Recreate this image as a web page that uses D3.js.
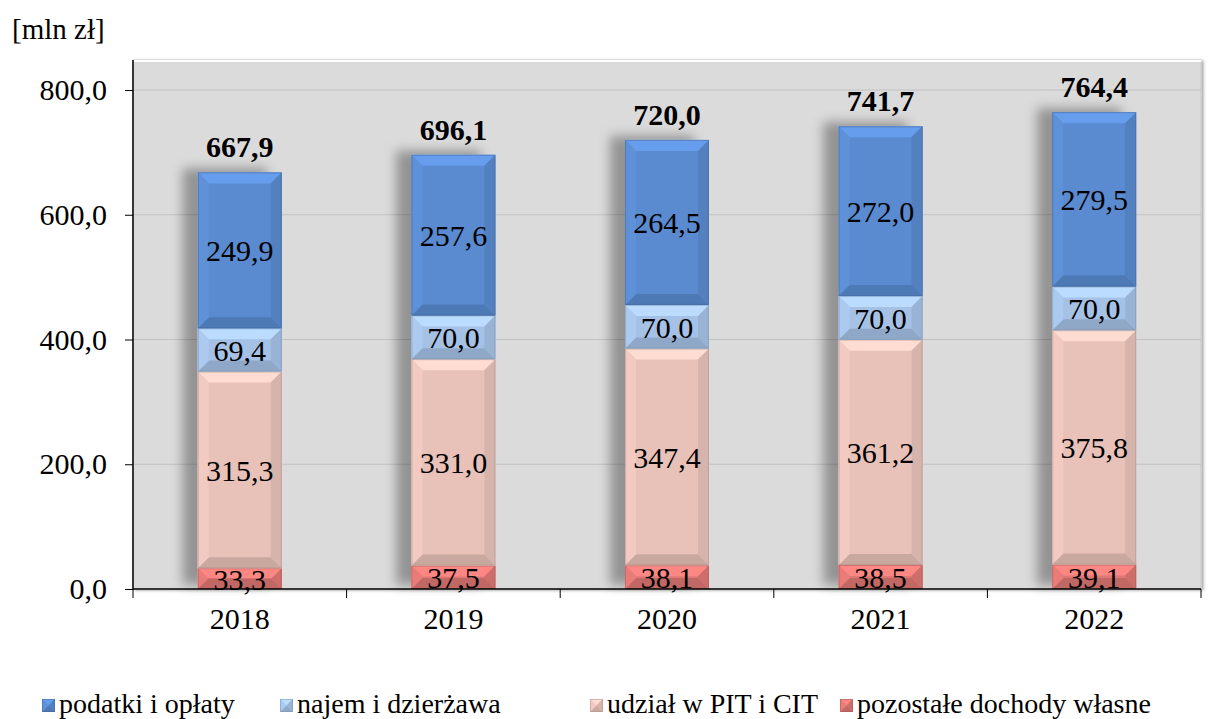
<!DOCTYPE html>
<html>
<head>
<meta charset="utf-8">
<script src="https://cdn.jsdelivr.net/npm/d3@7"></script>
<style>
  body { margin: 0; background: #fff; }
  text { font-family: "Liberation Serif", "Times New Roman", serif; fill: #000; }
</style>
</head>
<body>
<div id="chart"></div>
<script>
//data
var years = ["2018", "2019", "2020", "2021", "2022"];
var podatki = [249.9, 257.6, 264.5, 272.0, 279.5];
var najem = [69.4, 70.0, 70.0, 70.0, 70.0];
var udzial = [315.3, 331.0, 347.4, 361.2, 375.8];
var pozostale = [33.3, 37.5, 38.1, 38.5, 39.1];
var totals = [667.9, 696.1, 720.0, 741.7, 764.4];
var seriesNames = ["podatki i opłaty", "najem i dzierżawa", "udział w PIT i CIT", "pozostałe dochody własne"];
var yTicks = [0, 200, 400, 600, 800];

var colors = {
  "pozostałe dochody własne": "#df7774",
  "udział w PIT i CIT": "#e8c2b9",
  "najem i dzierżawa": "#a5c2e6",
  "podatki i opłaty": "#5a8bd0"
};

var W = 1215, H = 719;
var plot = {left: 133, right: 1201, top: 60, bottom: 589};

var svg = d3.select("#chart").append("svg")
    .attr("width", W).attr("height", H);

var defs = svg.append("defs");
defs.append("filter").attr("id", "shadow")
    .attr("x", "-60%").attr("y", "-20%").attr("width", "220%").attr("height", "140%")
  .append("feDropShadow")
    .attr("dx", -15).attr("dy", -4).attr("stdDeviation", 6)
    .attr("flood-color", "#000").attr("flood-opacity", 0.33);
defs.append("filter").attr("id", "plotShadow")
    .attr("x", "-5%").attr("y", "-5%").attr("width", "110%").attr("height", "110%")
  .append("feDropShadow")
    .attr("dx", 2).attr("dy", 1).attr("stdDeviation", 1.5)
    .attr("flood-color", "#000").attr("flood-opacity", 0.35);

//scales
var x = d3.scaleBand().domain(years)
    .range([plot.left, plot.right])
    .paddingInner(0.607).paddingOuter(0.3035);
var y = d3.scaleLinear().domain([0, 800]).range([plot.bottom, 90]);

var fmt = function(v) { return d3.format(".1f")(v).replace(".", ","); };

//plot area
svg.append("rect")
    .attr("x", plot.left).attr("y", plot.top)
    .attr("width", plot.right - plot.left).attr("height", plot.bottom - plot.top)
    .attr("fill", "#dbdbdb").attr("stroke", "#c8c8c8")
    .attr("filter", "url(#plotShadow)");
svg.append("line")
    .attr("x1", plot.left).attr("x2", plot.right)
    .attr("y1", plot.top + 1).attr("y2", plot.top + 1)
    .attr("stroke", "#fff").attr("stroke-width", 2);

//gridlines
svg.append("g").selectAll("line")
  .data(yTicks.slice(1)).enter().append("line")
    .attr("x1", plot.left).attr("x2", plot.right)
    .attr("y1", function(d) { return y(d); })
    .attr("y2", function(d) { return y(d); })
    .attr("stroke", "#c2c2c2").attr("stroke-width", 1);

//stack
var table = years.map(function(yr, i) {
  return {
    year: yr,
    "pozostałe dochody własne": pozostale[i],
    "udział w PIT i CIT": udzial[i],
    "najem i dzierżawa": najem[i],
    "podatki i opłaty": podatki[i],
    total: totals[i]
  };
});
var stackKeys = ["pozostałe dochody własne", "udział w PIT i CIT", "najem i dzierżawa", "podatki i opłaty"];
var stacked = d3.stack().keys(stackKeys)(table);

function bevel(g, bx, by, bw, bh, color) {
  var b = Math.min(11, bh / 2, bw / 2);
  var c = d3.color(color);
  g.append("rect").attr("x", bx).attr("y", by).attr("width", bw).attr("height", bh)
      .attr("fill", color);
  var polys = [
    {p: [[bx, by], [bx + bw, by], [bx + bw - b, by + b], [bx + b, by + b]], f: c.brighter(0.35)},
    {p: [[bx, by + bh], [bx + bw, by + bh], [bx + bw - b, by + bh - b], [bx + b, by + bh - b]], f: c.darker(0.4)},
    {p: [[bx, by], [bx + b, by + b], [bx + b, by + bh - b], [bx, by + bh]], f: c.brighter(0.12)},
    {p: [[bx + bw, by], [bx + bw - b, by + b], [bx + bw - b, by + bh - b], [bx + bw, by + bh]], f: c.darker(0.22)}
  ];
  polys.forEach(function(q) {
    g.append("polygon")
        .attr("points", q.p.map(function(pt) { return pt.join(","); }).join(" "))
        .attr("fill", q.f);
  });
  g.append("rect").attr("x", bx + 0.5).attr("y", by + 0.5)
      .attr("width", bw - 1).attr("height", bh - 1)
      .attr("fill", "none").attr("stroke", c.darker(0.8)).attr("stroke-opacity", 0.5);
}

//bars
var bars = svg.append("g");
table.forEach(function(row, i) {
  var g = bars.append("g").attr("filter", "url(#shadow)");
  stacked.forEach(function(s) {
    var d = s[i];
    bevel(g, x(row.year), y(d[1]), x.bandwidth(), y(d[0]) - y(d[1]), colors[s.key]);
  });
});

//segment labels
stacked.forEach(function(s) {
  svg.append("g").selectAll("text")
    .data(s).enter().append("text")
      .attr("x", function(d) { return x(d.data.year) + x.bandwidth() / 2; })
      .attr("y", function(d) { return (y(d[0]) + y(d[1])) / 2 + 11; })
      .attr("text-anchor", "middle")
      .style("font-size", "30px")
      .text(function(d) { return fmt(d[1] - d[0]); });
});

//totals
svg.append("g").selectAll("text")
  .data(table).enter().append("text")
    .attr("x", function(d) { return x(d.year) + x.bandwidth() / 2; })
    .attr("y", function(d) { return y(d.total) - 15; })
    .attr("text-anchor", "middle")
    .style("font-size", "30px").style("font-weight", "bold")
    .text(function(d) { return fmt(d.total); });

//y axis
var yAxis = svg.append("g")
    .attr("transform", "translate(" + plot.left + ",0)")
    .call(d3.axisLeft(y).tickValues(yTicks).tickFormat(fmt).tickSize(8).tickPadding(18));
yAxis.select(".domain").remove();
yAxis.selectAll("line").attr("stroke", "#000");
yAxis.selectAll("text").style("font-size", "30px").attr("font-family", null);
svg.append("line")
    .attr("x1", plot.left).attr("x2", plot.left)
    .attr("y1", plot.top).attr("y2", plot.bottom)
    .attr("stroke", "#000").attr("stroke-width", 1.5);

//x axis
var xAxis = svg.append("g")
    .attr("transform", "translate(0," + plot.bottom + ")")
    .call(d3.axisBottom(x).tickSize(0).tickPadding(19));
xAxis.select(".domain").remove();
xAxis.selectAll("text").style("font-size", "30px").attr("font-family", null);
svg.append("line")
    .attr("x1", plot.left).attr("x2", plot.right)
    .attr("y1", plot.bottom).attr("y2", plot.bottom)
    .attr("stroke", "#000").attr("stroke-width", 1.5);
var step = x.step();
svg.append("g").selectAll("line")
  .data(d3.range(years.length + 1)).enter().append("line")
    .attr("x1", function(d) { return plot.left + d * step; })
    .attr("x2", function(d) { return plot.left + d * step; })
    .attr("y1", plot.bottom).attr("y2", plot.bottom + 9)
    .attr("stroke", "#000");

//unit label
svg.append("text")
    .attr("x", 12).attr("y", 39)
    .style("font-size", "29px")
    .text("[mln zł]");

//legend
var legendX = [42, 280, 590, 840];
var legend = svg.append("g").selectAll("g")
  .data(seriesNames).enter().append("g")
    .attr("transform", function(d, i) { return "translate(" + legendX[i] + ",699)"; });
legend.each(function(d) {
  bevel(d3.select(this), 0, 0, 13, 13, colors[d]);
});
legend.append("text")
    .attr("x", 17).attr("y", 14)
    .style("font-size", "28px")
    .text(function(d) { return d; });
</script>
</body>
</html>
